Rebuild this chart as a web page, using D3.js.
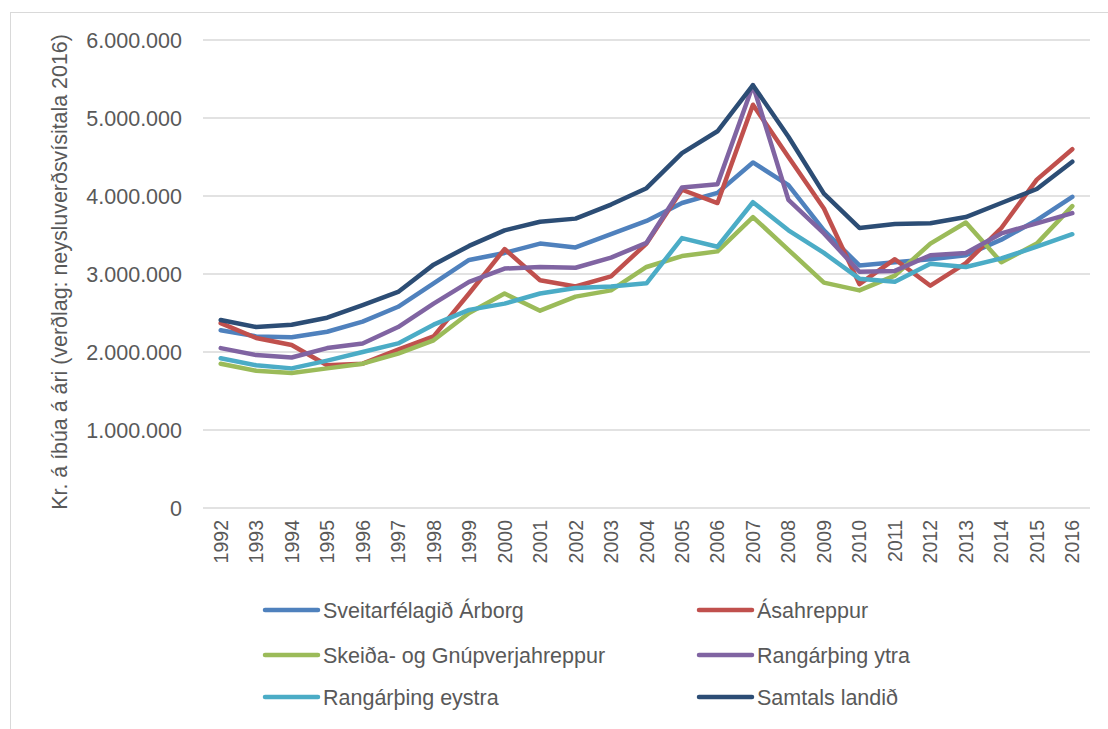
<!DOCTYPE html>
<meta charset="utf-8" />
<style>
  body { margin: 0; background: #fff; }
  text { font-family: "Liberation Sans", Arial, sans-serif; fill: #595959; }
</style>
<svg width="1108" height="729"></svg>
<script src="https://d3js.org/d3.v7.min.js"></script>
<script>
  var years = d3.range(1992, 2017).map(String);

  var arborg = [2.28, 2.20, 2.19, 2.26, 2.39, 2.58, 2.88, 3.18, 3.27, 3.39, 3.34, 3.51, 3.68, 3.91, 4.04, 4.43, 4.14, 3.56, 3.11, 3.15, 3.19, 3.24, 3.44, 3.69, 3.99];
  var asahreppur = [2.37, 2.18, 2.09, 1.83, 1.85, 2.03, 2.20, 2.75, 3.32, 2.92, 2.84, 2.97, 3.39, 4.08, 3.91, 5.17, 4.50, 3.84, 2.87, 3.19, 2.85, 3.14, 3.59, 4.21, 4.60];
  var skeida = [1.85, 1.76, 1.73, 1.79, 1.85, 1.98, 2.15, 2.50, 2.75, 2.53, 2.71, 2.79, 3.09, 3.23, 3.29, 3.73, 3.31, 2.89, 2.79, 2.98, 3.39, 3.66, 3.15, 3.39, 3.87];
  var ytra = [2.05, 1.96, 1.93, 2.05, 2.11, 2.32, 2.62, 2.90, 3.07, 3.09, 3.08, 3.21, 3.40, 4.11, 4.15, 5.42, 3.95, 3.52, 3.03, 3.04, 3.24, 3.27, 3.52, 3.65, 3.78];
  var eystra = [1.92, 1.83, 1.79, 1.89, 2.00, 2.11, 2.35, 2.54, 2.62, 2.75, 2.82, 2.84, 2.88, 3.46, 3.35, 3.92, 3.56, 3.27, 2.94, 2.90, 3.13, 3.09, 3.20, 3.35, 3.51];
  var landid = [2.41, 2.32, 2.35, 2.44, 2.60, 2.77, 3.12, 3.36, 3.56, 3.67, 3.71, 3.89, 4.10, 4.55, 4.83, 5.42, 4.76, 4.03, 3.59, 3.64, 3.65, 3.73, 3.91, 4.09, 4.44];

  var series = [
    { name: "Sveitarfélagið Árborg", color: "#4f81bd", values: arborg },
    { name: "Ásahreppur", color: "#c0504d", values: asahreppur },
    { name: "Skeiða- og Gnúpverjahreppur", color: "#9bbb59", values: skeida },
    { name: "Rangárþing ytra", color: "#8064a2", values: ytra },
    { name: "Rangárþing eystra", color: "#4bacc6", values: eystra },
    { name: "Samtals landið", color: "#2c4d75", values: landid }
  ];

  var yTicks = [0, 1e6, 2e6, 3e6, 4e6, 5e6, 6e6];

  var svg = d3.select("svg");

  // chart frame
  svg.append("rect")
    .attr("x", 10.5).attr("y", 12.5)
    .attr("width", 1200).attr("height", 800)
    .attr("fill", "none").attr("stroke", "#d9d9d9");

  var x = d3.scalePoint().domain(years).range([220.7, 1072.3]);
  var y = d3.scaleLinear().domain([0, 6e6]).range([508, 40]);

  var fmt = d3.formatLocale({ decimal: ",", thousands: ".", grouping: [3], currency: ["", " kr."] }).format(",.0f");

  // gridlines
  svg.append("g").selectAll("line").data(yTicks).join("line")
    .attr("x1", 203).attr("x2", 1090)
    .attr("y1", d => y(d)).attr("y2", d => y(d))
    .attr("stroke", "#d9d9d9").attr("stroke-width", 1.5);

  // y axis labels
  svg.append("g").selectAll("text").data(yTicks).join("text")
    .attr("x", 182).attr("y", d => y(d))
    .attr("dy", "0.36em")
    .attr("text-anchor", "end")
    .style("font-size", "21.5px")
    .text(d => fmt(d));

  // x axis labels
  svg.append("g").selectAll("text").data(years).join("text")
    .attr("transform", d => "translate(" + (x(d) + 7) + ",520) rotate(-90)")
    .attr("text-anchor", "end")
    .style("font-size", "19.5px")
    .text(d => d);

  // y title
  svg.append("text")
    .attr("transform", "translate(67,272) rotate(-90)")
    .attr("text-anchor", "middle")
    .style("font-size", "21.4px")
    .text("Kr. á íbúa á ári (verðlag: neysluverðsvísitala 2016)");

  var line = d3.line()
    .x((d, i) => x(years[i]))
    .y(d => y(d * 1e6));

  svg.append("g").selectAll("path").data(series).join("path")
    .attr("d", d => line(d.values))
    .attr("fill", "none")
    .attr("stroke", d => d.color)
    .attr("stroke-width", 4.5)
    .attr("stroke-linejoin", "round")
    .attr("stroke-linecap", "round");

  // legend
  var leg = svg.append("g").selectAll("g").data(series).join("g")
    .attr("transform", (d, i) => "translate(" + (i % 2 ? 699 : 265) + "," + [610, 655, 697][Math.floor(i / 2)] + ")");
  leg.append("line")
    .attr("x1", 0).attr("x2", 53)
    .attr("stroke", d => d.color).attr("stroke-width", 4.5)
    .attr("stroke-linecap", "round");
  leg.append("text")
    .attr("x", 58).attr("dy", "0.35em")
    .style("font-size", "21.5px")
    .text(d => d.name);
</script>
